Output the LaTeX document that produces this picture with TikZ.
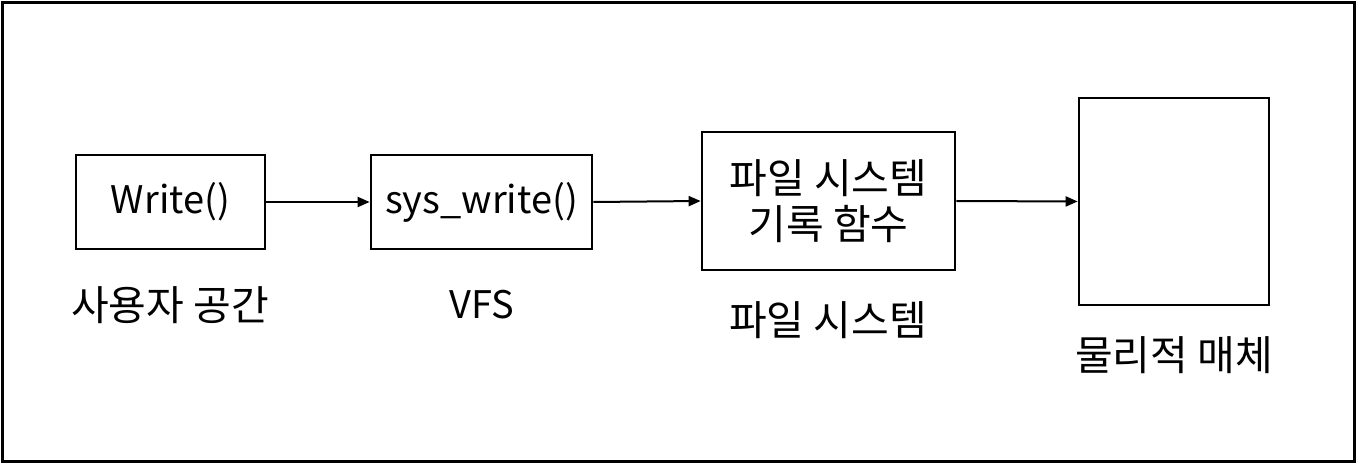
\documentclass[tikz,border=0pt]{standalone}
\usepackage{fontspec}
\setmainfont{Noto Sans CJK KR}
\usetikzlibrary{arrows.meta}
\begin{document}
\begin{tikzpicture}[x=1bp,y=-1bp,
  box/.style={draw,line width=2.7bp,inner sep=0pt},
  lbl/.style={font=\fontsize{41bp}{46bp}\selectfont,inner sep=0pt},
  lat/.style={font=\fontsize{38bp}{46bp}\selectfont,inner sep=0pt},
  conn/.style={line width=2bp,-{Triangle[length=12bp,width=10bp]}}]
\useasboundingbox (0,0) rectangle (1357,464);
\node[draw,line width=3bp,inner sep=0pt,minimum width=1352bp,minimum height=459bp] (frame) at (678.5,232) {};
\node[box,minimum width=189bp,minimum height=94bp,lat] (w) at (170.5,202) {Write()};
\node[box,minimum width=221bp,minimum height=94bp,lat] (s) at (481.5,202) {sys\_write()};
\node[box,minimum width=253bp,minimum height=138bp,lbl,align=center] (f) at (828.5,201) {파일 시스템\\기록 함수};
\node[box,minimum width=190bp,minimum height=207bp] (m) at (1174,201.5) {};
\draw[conn] (w.east) -- (s.west);
\draw[conn] (s.east) -- (f.west);
\draw[conn] (f.east) -- (m.west);
\node[lbl] (l1) at (170,305) {사용자 공간};
\node[lat] (l2) at (482,305) {VFS};
\node[lbl] (l3) at (828,320) {파일 시스템};
\node[lbl] (l4) at (1174,355) {물리적 매체};
\end{tikzpicture}
\end{document}
